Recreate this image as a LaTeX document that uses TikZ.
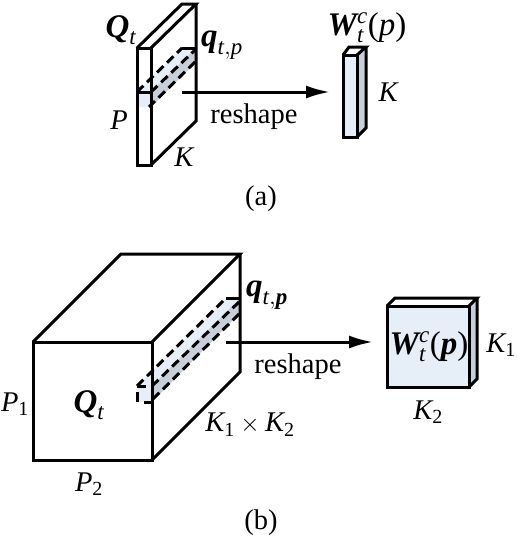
\documentclass[tikz,border=0pt]{standalone}
\usepackage{amsmath}
\usepackage{fontspec}
\setmainfont{Liberation Serif}
\usetikzlibrary{arrows.meta}
\definecolor{lightface}{HTML}{E6EEF8}
\definecolor{greyface}{HTML}{C8CFD8}
\DeclareMathSizes{28.5}{28.5}{20}{15}
\DeclareMathSizes{33}{33}{23}{20}
\newcommand{\bv}[1]{\text{\bfseries\itshape #1}}
\newcommand{\iv}[1]{\text{\itshape #1}}
\tikzset{
  edge/.style={line width=3pt, line join=miter},
  dashedge/.style={line width=3pt, dash pattern=on 9pt off 5pt},
  flow/.style={line width=3pt, -{Latex[length=24pt,width=13pt]}},
  lbl/.style={inner sep=0pt, font=\fontsize{28.5}{32}\selectfont},
  boldlbl/.style={inner sep=0pt, font=\fontsize{33}{36}\selectfont}
}
\begin{document}
\begin{tikzpicture}[x=1pt, y=-1pt]
  \useasboundingbox (0,0) rectangle (518,538);
  % (a) strip fill
  \fill[lightface] (137,92) -- (182,48) -- (196,48) -- (151,92) -- (151,107) -- (137,107) -- cycle;
  \fill[greyface] (151,92) -- (196,48) -- (196,62) -- (151,107) -- cycle;
  % (a) slab
  \draw[edge] (137,48) rectangle (151,165);
  \draw[edge] (137,48) -- (182,4) -- (196,4) -- (151,48);
  \draw[edge] (196,4) -- (196,121) -- (151,165);
  % (a) strip edges
  \draw[dashedge] (137,92) -- (182,48);
  \draw[edge] (182,48) -- (195,48);
  \draw[dashedge] (151,92) -- (195,50);
  \draw[dashedge] (195,62) -- (149,107);
  \draw[edge] (137,92) -- (151,92) -- (151,107);
  % (a) bar
  \fill[lightface] (343,55) rectangle (357,137);
  \fill[greyface] (357,55) -- (366,47) -- (366,128) -- (357,137) -- cycle;
  \draw[edge] (343,55) rectangle (357,137);
  \draw[edge] (343,55) -- (349,47) -- (366,47) -- (357,55);
  \draw[edge] (366,47) -- (366,128) -- (357,137);
  % (a) arrow
  \coordinate (a_start) at (182,92);
  \coordinate (a_end) at (330,92);
  \draw[flow] (a_start) -- (a_end);
  % (a) labels
  \node[boldlbl] (a_Q) at (121,30) {$\bv{Q}_{\iv{t}}$};
  \node[boldlbl] (a_q) at (222,45) {$\bv{q}_{\iv{t},\iv{p}}$};
  \node[lbl] (a_P) at (119,120) {$\iv{P}$};
  \node[lbl] (a_K) at (184,157) {$\iv{K}$};
  \node[lbl] (a_reshape) at (254,117) {reshape};
  \node[boldlbl] (a_W) at (367,28) {$\bv{W}_{\iv{t}}^{\iv{c}}\text{(}\iv{p}\text{)}$};
  \node[lbl] (a_Kbar) at (388,92) {$\iv{K}$};
  \node[lbl] (a_cap) at (261,199) {(a)};
  % (b) strip fill
  \fill[lightface] (137,386) -- (226,298) -- (240,298) -- (152,386) -- (152,402) -- (137,402) -- cycle;
  \fill[greyface] (152,386) -- (240,298) -- (240,313) -- (152,402) -- cycle;
  % (b) cube
  \draw[edge] (33,342) rectangle (152,460);
  \draw[edge] (33,342) -- (121,254) -- (240,254) -- (152,342);
  \draw[edge] (240,254) -- (240,372) -- (152,460);
  % (b) strip edges
  \draw[dashedge] (137,386) -- (226,298);
  \draw[edge] (226,298) -- (239,298);
  \draw[dashedge] (152,386) -- (239,302);
  \draw[dashedge] (239,314) -- (150,402);
  \draw[edge] (137,386) -- (146,386);
  \draw[edge] (137,392) -- (137,402);
  \draw[edge] (144,402) -- (152,402);
  % (b) box
  \fill[lightface] (387,306) rectangle (469,387);
  \fill[greyface] (469,306) -- (477,298) -- (477,379) -- (469,387) -- cycle;
  \draw[edge] (387,306) rectangle (469,387);
  \draw[edge] (387,306) -- (395,298) -- (477,298) -- (469,306);
  \draw[edge] (477,298) -- (477,379) -- (469,387);
  % (b) arrow
  \coordinate (b_start) at (226,342);
  \coordinate (b_end) at (373,342);
  \draw[flow] (b_start) -- (b_end);
  % (b) labels
  \node[boldlbl] (b_Q) at (89,405) {$\bv{Q}_{\iv{t}}$};
  \node[boldlbl] (b_q) at (267,295) {$\bv{q}_{\iv{t},\bv{p}}$};
  \node[lbl] (b_Pone) at (15,404) {$\iv{P}_{\text{1}}$};
  \node[lbl] (b_Ptwo) at (89,484) {$\iv{P}_{\text{2}}$};
  \node[lbl] (b_KK) at (250,425) {$\iv{K}_{\text{1}} \times \iv{K}_{\text{2}}$};
  \node[lbl] (b_reshape) at (298,367) {reshape};
  \node[boldlbl] (b_W) at (429,347) {$\bv{W}_{\iv{t}}^{\iv{c}}\text{(}\bv{p}\text{)}$};
  \node[lbl] (b_Kone) at (501,345) {$\iv{K}_{\text{1}}$};
  \node[lbl] (b_Ktwo) at (428,412) {$\iv{K}_{\text{2}}$};
  \node[lbl] (b_cap) at (261,523) {(b)};
\end{tikzpicture}
\end{document}
